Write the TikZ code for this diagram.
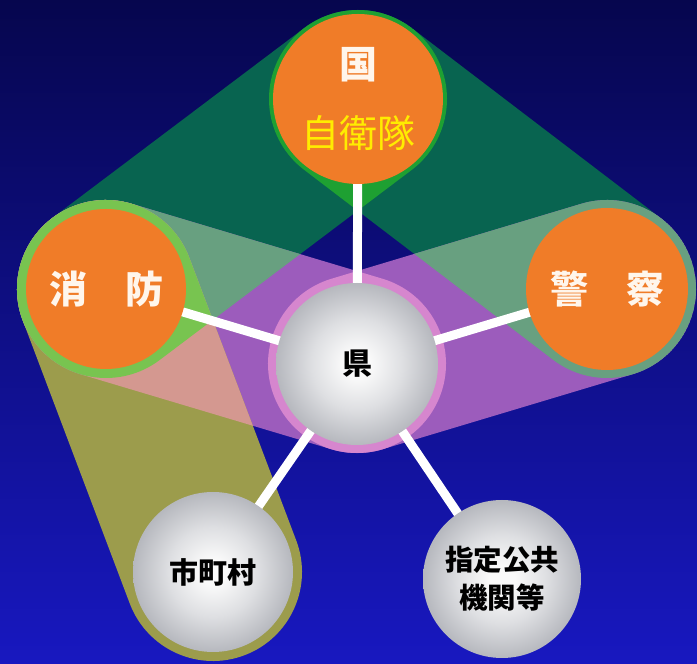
\documentclass[tikz,border=0pt]{standalone}
\usepackage{fontspec}
\newfontfamily\jp{Noto Sans CJK JP}
\usetikzlibrary{calc}
\definecolor{bgtop}{RGB}{6,6,78}
\definecolor{bgbot}{RGB}{24,24,192}
\definecolor{dgreen}{RGB}{8,100,80}
\definecolor{bgreen}{RGB}{30,160,50}
\definecolor{purp}{RGB}{156,92,188}
\definecolor{pinkr}{RGB}{214,134,206}
\definecolor{ggreen}{RGB}{104,160,128}
\definecolor{olivetwo}{RGB}{156,156,76}
\definecolor{salmonc}{RGB}{212,152,144}
\definecolor{lgreen}{RGB}{120,196,80}
\definecolor{orng}{RGB}{240,124,40}
\definecolor{ballmid}{RGB}{222,223,226}
\definecolor{balledge}{RGB}{182,184,190}
\definecolor{ballcore}{RGB}{250,250,250}
\definecolor{cream}{RGB}{255,246,236}
\definecolor{yel}{RGB}{255,236,0}
\pgfdeclarelayer{bands}
\pgfdeclarelayer{lines}
\pgfsetlayers{bands,lines,main}
\pgfdeclareradialshading{gball}{\pgfpointorigin}{color(0bp)=(ballcore); color(4bp)=(ballcore); color(14bp)=(ballmid); color(25bp)=(balledge); color(50bp)=(balledge)}
\def\HR{89pt}
\newcommand\hullpath[2]{let \p1=(#1), \p2=(#2), \n1={atan2(\y2-\y1,\x2-\x1)} in ($(#1)+(\n1+90:\HR)$) arc[start angle=\n1+90, delta angle=180, radius=\HR] -- ($(#2)+(\n1-90:\HR)$) arc[start angle=\n1-90, delta angle=180, radius=\HR] -- cycle}
\tikzset{
  orangeball/.style={circle, fill=orng, inner sep=0pt, minimum size=#1},
  grayball/.style={circle, shading=gball, inner sep=0pt, minimum size=#1},
  link/.style={draw=white, line width=9pt, shorten <=-4pt, shorten >=-4pt},
}
\begin{document}
\begin{tikzpicture}[x=1pt,y=1pt]
\useasboundingbox (0,0) rectangle (697,664);
% nodes
\node[orangeball=170pt, align=center, font=\jp\fontsize{38}{46}\selectfont] (kuni) at (358,565)
  {{\color{cream}\bfseries 国}\\[23pt]{\color{yel}自衛隊}};
\node[orangeball=160pt, text=cream, font=\jp\bfseries\fontsize{38}{46}\selectfont] (shobo) at (106,375) {消　防};
\node[orangeball=162pt, text=cream, font=\jp\bfseries\fontsize{38}{46}\selectfont] (keisatsu) at (607,375) {警　察};
\node[grayball=162pt, text=black, font=\jp\bfseries\fontsize{30}{36}\selectfont] (ken) at (357,300) {県};
\node[grayball=160pt, text=black, font=\jp\bfseries\fontsize{29}{36}\selectfont] (shi) at (213,92) {市町村};
\node[grayball=158pt, text=black, align=center, font=\jp\bfseries\fontsize{28.5}{38}\selectfont] (shitei) at (502,85) {指定公共\\機関等};
% connectors
\begin{pgfonlayer}{lines}
\path[link] (ken) -- (kuni);
\path[link] (ken) -- (shobo);
\path[link] (ken) -- (keisatsu);
\path[link] (ken) -- (shi);
\path[link] (ken) -- (shitei);
\end{pgfonlayer}
% bands
\begin{pgfonlayer}{bands}
\shade[top color=bgtop, bottom color=bgbot] (0,0) rectangle (697,664);
\fill[dgreen] \hullpath{kuni.center}{shobo.center};
\fill[dgreen] \hullpath{kuni.center}{keisatsu.center};
\fill[purp] \hullpath{shobo.center}{ken.center};
\fill[purp] \hullpath{keisatsu.center}{ken.center};
\fill[olivetwo] \hullpath{shobo.center}{shi.center};
\begin{scope}
  \clip \hullpath{kuni.center}{shobo.center};
  \fill[bgreen] \hullpath{kuni.center}{keisatsu.center};
\end{scope}
\begin{scope}
  \clip \hullpath{shobo.center}{ken.center};
  \fill[pinkr] \hullpath{keisatsu.center}{ken.center};
\end{scope}
\begin{scope}
  \clip \hullpath{kuni.center}{shobo.center};
  \fill[ggreen] \hullpath{shobo.center}{ken.center};
\end{scope}
\begin{scope}
  \clip \hullpath{kuni.center}{keisatsu.center};
  \fill[ggreen] \hullpath{keisatsu.center}{ken.center};
\end{scope}
\begin{scope}
  \clip \hullpath{shobo.center}{shi.center};
  \fill[salmonc] \hullpath{shobo.center}{ken.center};
\end{scope}
\begin{scope}
  \clip \hullpath{kuni.center}{shobo.center};
  \clip \hullpath{shobo.center}{ken.center};
  \fill[lgreen] \hullpath{shobo.center}{shi.center};
\end{scope}
\end{pgfonlayer}
\end{tikzpicture}
\end{document}
